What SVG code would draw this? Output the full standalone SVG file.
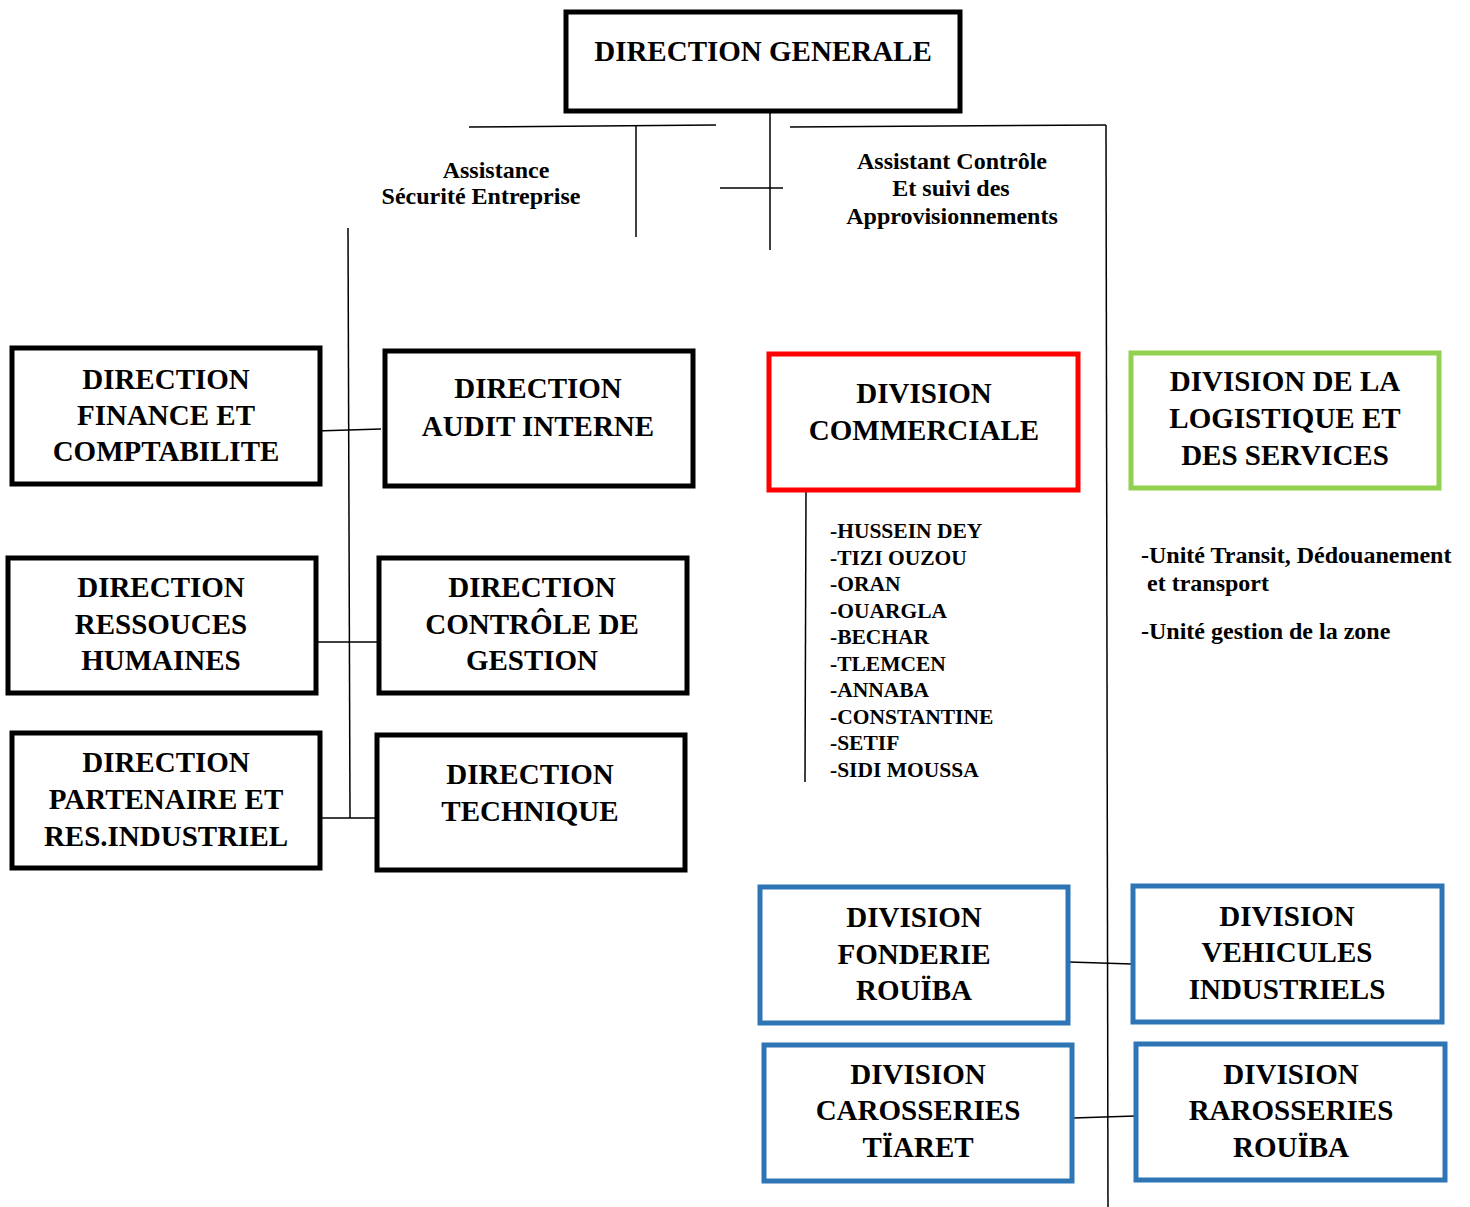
<svg xmlns="http://www.w3.org/2000/svg" width="1470" height="1207" viewBox="0 0 1470 1207">
  <style>
    .box { fill: #ffffff; stroke: #000000; stroke-width: 5; }
    .red { stroke: #ff0000; }
    .green { stroke: #92d050; }
    .blue { stroke: #2e75b6; }
    .t { font-family: "Liberation Serif", "Times New Roman", serif; font-weight: bold; font-size: 29px; fill: #000; text-anchor: middle; }
    .s { font-family: "Liberation Serif", "Times New Roman", serif; font-weight: bold; font-size: 24px; fill: #000; }
    .c { font-family: "Liberation Serif", "Times New Roman", serif; font-weight: bold; font-size: 21.5px; fill: #000; }
    .ln { stroke: #000; stroke-width: 1.5; fill: none; }
  </style>
  <rect width="1470" height="1207" fill="#ffffff"/>

  <!-- connectors -->
  <g id="connectors">
    <line class="ln" x1="469" y1="127" x2="716" y2="125"/>
    <line class="ln" x1="636" y1="126" x2="636" y2="237"/>
    <line class="ln" x1="770" y1="112" x2="770" y2="250"/>
    <line class="ln" x1="720" y1="188" x2="783" y2="188"/>
    <line class="ln" x1="790" y1="127" x2="1106" y2="125"/>
    <line class="ln" x1="1106" y1="125" x2="1108" y2="1207"/>
    <line class="ln" x1="348" y1="228" x2="350" y2="818"/>
    <line class="ln" x1="316" y1="431" x2="381" y2="429"/>
    <line class="ln" x1="317" y1="642" x2="378" y2="642"/>
    <line class="ln" x1="321" y1="818" x2="376" y2="818"/>
    <line class="ln" x1="806" y1="491" x2="805" y2="782"/>
    <line class="ln" x1="1069" y1="962" x2="1132" y2="964"/>
    <line class="ln" x1="1073" y1="1118" x2="1135" y2="1116"/>
  </g>

  <g id="direction-generale">
    <rect class="box" x="566" y="12" width="394" height="99"/>
    <text class="t" x="763" y="61">DIRECTION GENERALE</text>
  </g>

  <g id="assistance-securite">
    <text class="s" x="496" y="178" text-anchor="middle">Assistance</text>
    <text class="s" x="481" y="204" text-anchor="middle">Sécurité Entreprise</text>
  </g>

  <g id="assistant-controle">
    <text class="s" x="952" y="169" text-anchor="middle">Assistant Contrôle</text>
    <text class="s" x="951" y="196" text-anchor="middle">Et suivi des</text>
    <text class="s" x="952" y="224" text-anchor="middle">Approvisionnements</text>
  </g>

  <g id="direction-finance">
    <rect class="box" x="12" y="348" width="308" height="136"/>
    <text class="t" x="166" y="389">DIRECTION</text>
    <text class="t" x="166" y="425">FINANCE ET</text>
    <text class="t" x="166" y="461">COMPTABILITE</text>
  </g>

  <g id="direction-audit">
    <rect class="box" x="385" y="351" width="308" height="135"/>
    <text class="t" x="538" y="398">DIRECTION</text>
    <text class="t" x="538" y="436">AUDIT INTERNE</text>
  </g>

  <g id="direction-rh">
    <rect class="box" x="8" y="558" width="308" height="135"/>
    <text class="t" x="161" y="597">DIRECTION</text>
    <text class="t" x="161" y="634">RESSOUCES</text>
    <text class="t" x="161" y="670">HUMAINES</text>
  </g>

  <g id="direction-controle">
    <rect class="box" x="379" y="558" width="308" height="135"/>
    <text class="t" x="532" y="597">DIRECTION</text>
    <text class="t" x="532" y="634">CONTRÔLE DE</text>
    <text class="t" x="532" y="670">GESTION</text>
  </g>

  <g id="direction-partenaire">
    <rect class="box" x="12" y="733" width="308" height="135"/>
    <text class="t" x="166" y="772">DIRECTION</text>
    <text class="t" x="166" y="809">PARTENAIRE ET</text>
    <text class="t" x="166" y="846">RES.INDUSTRIEL</text>
  </g>

  <g id="direction-technique">
    <rect class="box" x="377" y="735" width="308" height="135"/>
    <text class="t" x="530" y="784">DIRECTION</text>
    <text class="t" x="530" y="821">TECHNIQUE</text>
  </g>

  <g id="division-commerciale">
    <rect class="box red" x="769" y="354" width="309" height="136"/>
    <text class="t" x="924" y="403">DIVISION</text>
    <text class="t" x="924" y="440">COMMERCIALE</text>
  </g>

  <g id="sites-commerciaux">
    <text class="c" x="830" y="538">-HUSSEIN DEY</text>
    <text class="c" x="830" y="565">-TIZI OUZOU</text>
    <text class="c" x="830" y="591">-ORAN</text>
    <text class="c" x="830" y="618">-OUARGLA</text>
    <text class="c" x="830" y="644">-BECHAR</text>
    <text class="c" x="830" y="671">-TLEMCEN</text>
    <text class="c" x="830" y="697">-ANNABA</text>
    <text class="c" x="830" y="724">-CONSTANTINE</text>
    <text class="c" x="830" y="750">-SETIF</text>
    <text class="c" x="830" y="777">-SIDI MOUSSA</text>
  </g>

  <g id="division-logistique">
    <rect class="box green" x="1131" y="353" width="308" height="135"/>
    <text class="t" x="1285" y="391">DIVISION DE LA</text>
    <text class="t" x="1285" y="428">LOGISTIQUE ET</text>
    <text class="t" x="1285" y="465">DES SERVICES</text>
  </g>

  <g id="unites-logistique">
    <text class="s" x="1141" y="563">-Unité Transit, Dédouanement</text>
    <text class="s" x="1147" y="591">et transport</text>
    <text class="s" x="1141" y="639">-Unité gestion de la zone</text>
  </g>

  <g id="division-fonderie">
    <rect class="box blue" x="760" y="887" width="308" height="136"/>
    <text class="t" x="914" y="927">DIVISION</text>
    <text class="t" x="914" y="964">FONDERIE</text>
    <text class="t" x="914" y="1000">ROUÏBA</text>
  </g>

  <g id="division-vehicules">
    <rect class="box blue" x="1133" y="886" width="309" height="136"/>
    <text class="t" x="1287" y="926">DIVISION</text>
    <text class="t" x="1287" y="962">VEHICULES</text>
    <text class="t" x="1287" y="999">INDUSTRIELS</text>
  </g>

  <g id="division-carosseries">
    <rect class="box blue" x="764" y="1045" width="308" height="136"/>
    <text class="t" x="918" y="1084">DIVISION</text>
    <text class="t" x="918" y="1120">CAROSSERIES</text>
    <text class="t" x="918" y="1157">TÏARET</text>
  </g>

  <g id="division-rarosseries">
    <rect class="box blue" x="1136" y="1044" width="309" height="136"/>
    <text class="t" x="1291" y="1084">DIVISION</text>
    <text class="t" x="1291" y="1120">RAROSSERIES</text>
    <text class="t" x="1291" y="1157">ROUÏBA</text>
  </g>
</svg>
